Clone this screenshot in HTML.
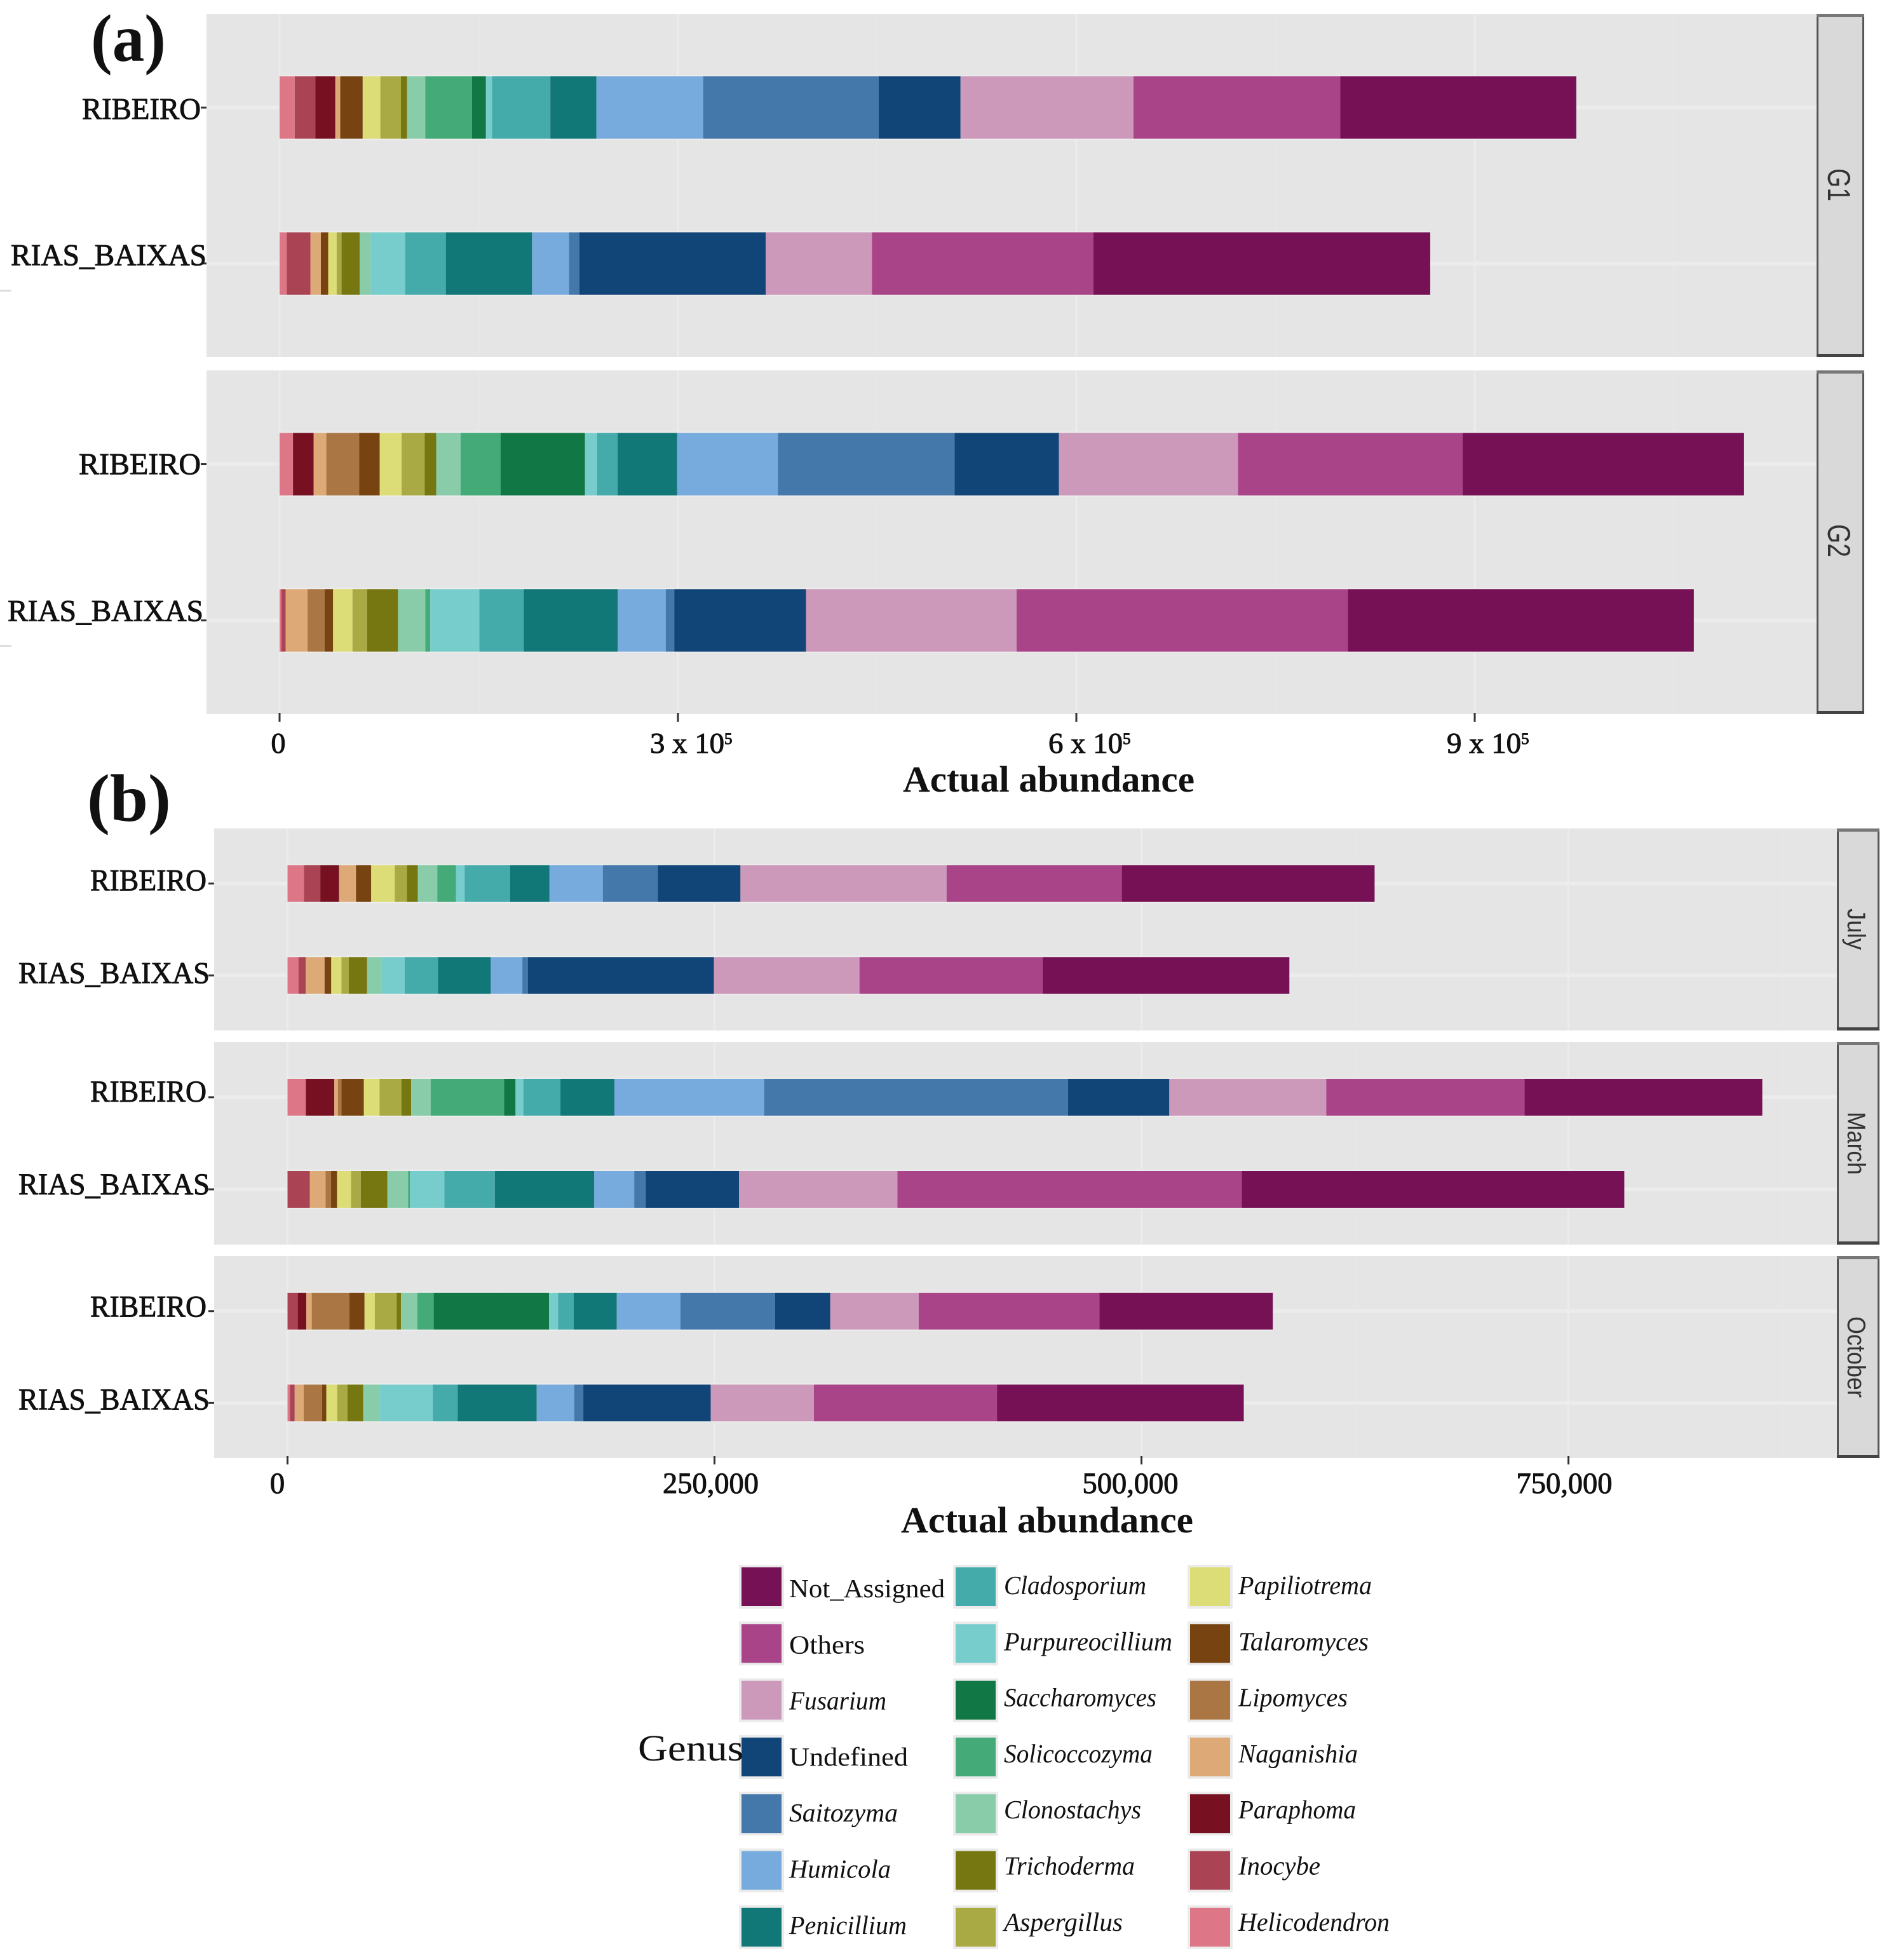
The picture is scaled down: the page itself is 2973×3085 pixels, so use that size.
<!DOCTYPE html>
<html lang="en">
<head>
<meta charset="utf-8">
<title>Actual abundance of fungal genera by wine region</title>
<style>
  html, body { margin: 0; padding: 0; background: #fff; }
  svg { display: block; }
  text { font-family: "Liberation Serif", serif; fill: #111; }
  .axis-label { stroke: #111; stroke-width: 1px; }
  .strip-label { font-family: "Liberation Sans", sans-serif; fill: #333; }
</style>
</head>
<body>
<svg id="chart" xmlns="http://www.w3.org/2000/svg" width="2973" height="3085" viewBox="0 0 2973 3085">
  <rect x="0" y="0" width="2973" height="3085" fill="#ffffff"/>
  <g id="plot-a"></g>
  <g id="plot-b"></g>
  <g id="legend"></g>

  <text x="143" y="96" font-size="106" font-weight="bold" textLength="118" lengthAdjust="spacingAndGlyphs">(a)</text>
  <text x="137" y="1292" font-size="106" font-weight="bold" textLength="132" lengthAdjust="spacingAndGlyphs">(b)</text>
  <text x="1421" y="1246" font-size="58" font-weight="bold" textLength="459" lengthAdjust="spacingAndGlyphs">Actual abundance</text>
  <text x="1418" y="2412" font-size="58" font-weight="bold" textLength="460" lengthAdjust="spacingAndGlyphs">Actual abundance</text>
  <text x="1004" y="2771" font-size="58" textLength="166" lengthAdjust="spacingAndGlyphs">Genus</text>
  <rect x="0" y="456" width="18" height="3" fill="#dddddd"/>
  <rect x="0" y="1015" width="18" height="3" fill="#dddddd"/>
</svg>

<script>
// Genus order, left to right within every stacked bar.
const genera = ['Helicodendron','Inocybe','Paraphoma','Naganishia','Lipomyces','Talaromyces','Papiliotrema','Aspergillus','Trichoderma','Clonostachys','Solicoccozyma','Saccharomyces','Purpureocillium','Cladosporium','Penicillium','Humicola','Saitozyma','Undefined','Fusarium','Others','Not_Assigned'];
const genusColors = ['#DD7788','#AA4455','#771122','#DDAA77','#AA7744','#774411','#DDDD77','#AAAA44','#777711','#88CCAA','#44AA77','#117744','#77CCCC','#44AAAA','#117777','#77AADD','#4477AA','#114477','#CC99BB','#AA4488','#771155'];
const categories = ['RIBEIRO','RIAS_BAIXAS'];

// Panel (a): abundance per genus, same order as `genera`.
const g1Ribeiro = [11400,15500,15100,3700,0,16900,13300,15500,4600,13700,35200,10500,4600,43900,34700,80400,132100,61700,130200,155800,177700];
const g1RiasBaixas = [5500,17800,0,7800,0,5500,6400,3700,13700,8200,0,0,26000,30600,64900,27900,7800,140300,80000,166800,253600];
const g2Ribeiro = [10100,0,15500,9600,24700,15500,16500,17400,8700,18300,30200,63500,9100,15500,44800,75900,133000,78600,134800,169100,212000];
const g2RiasBaixas = [1400,3200,0,16500,12800,6400,14600,11000,23300,20600,3700,0,37000,33400,70800,36100,6400,99200,158600,249500,260500];

// Panel (b): abundance per genus, same order as `genera`.
const julyRibeiro = [9600,9600,11000,9900,0,8900,13800,7100,6400,11400,11000,0,5000,26600,23100,31200,32300,48300,120700,102600,148000];
const julyRiasBaixas = [6400,4300,0,11000,0,3900,6000,4300,10700,8500,0,0,13500,19500,30900,18500,3200,109000,85200,107200,144500];
const marchRibeiro = [10700,0,16700,2100,2100,13100,9200,12800,5700,11400,43000,6700,4600,21700,31600,87700,177900,59300,91900,116100,139200];
const marchRiasBaixas = [0,13100,0,9200,3200,3500,8200,5700,15600,12100,1100,0,20200,29500,58200,23400,6700,54700,92700,201600,224000];
const octoberRibeiro = [0,6000,5000,3200,22000,8900,6000,12800,2500,9600,9600,67500,5300,9200,25200,37300,55400,32300,51800,105800,101500];
const octoberRiasBaixas = [1400,2800,0,5300,10700,2500,6400,6000,9200,9600,0,0,31200,14600,46200,22000,5300,74600,60400,107200,144500];

// Axis ticks.
const panelAMajorTicks = [0,300000,600000,900000];
const panelAMinorTicks = [150000,450000,750000,1050000];
const panelATickMantissas = ['0','3 x 10','6 x 10','9 x 10'];
const panelATickExponents = ['','5','5','5'];
const panelBMajorTicks = [0,250000,500000,750000];
const panelBMinorTicks = [125000,375000,625000,875000];
const panelBTickLabels = ['0','250,000','500,000','750,000'];

// Legend columns, top to bottom.
const legendColumn1 = ['Not_Assigned','Others','Fusarium','Undefined','Saitozyma','Humicola','Penicillium'];
const legendColumn2 = ['Cladosporium','Purpureocillium','Saccharomyces','Solicoccozyma','Clonostachys','Trichoderma','Aspergillus'];
const legendColumn3 = ['Papiliotrema','Talaromyces','Lipomyces','Naganishia','Paraphoma','Inocybe','Helicodendron'];
const uprightGenera = ['Not_Assigned','Others','Undefined'];

const NS = 'http://www.w3.org/2000/svg';

function scaleA(v) { return 440 + v / 300000 * 627; }
function scaleB(v) { return 452.5 + v / 250000 * 672; }
function bandCenter(top, bottom, i) { return top + (0.6 + i) * (bottom - top) / 2.2; }
function bandThickness(top, bottom) { return 0.4 * (bottom - top) / 2.2; }

function shape(parent, tag, attrs) {
  const node = document.createElementNS(NS, tag);
  for (const k in attrs) node.setAttribute(k, attrs[k]);
  parent.appendChild(node);
  return node;
}

function slug(s) { return s.toLowerCase().replace(/_/g, '-'); }

function drawFacet(parent, facet) {
  const top = facet.top, bottom = facet.bottom, left = facet.left, right = facet.right, x = facet.scale;
  const bg = shape(parent, 'rect', { x: left, y: top, width: right - left, height: bottom - top, fill: '#e5e5e5' });
  
  

  facet.minor.forEach(function (v) {
    const el = shape(parent, 'rect', { x: x(v) - 1, y: top, width: 2, height: bottom - top, fill: '#e8e8e8' });
    
    
  });
  facet.major.forEach(function (v) {
    const el = shape(parent, 'rect', { x: x(v) - 1.5, y: top, width: 3, height: bottom - top, fill: '#ececec' });
    
    
  });

  facet.series.forEach(function (values, c) {
    const cy = bandCenter(top, bottom, c);
    const thick = bandThickness(top, bottom);

    const grid = shape(parent, 'rect', { x: left, y: cy - 3, width: right - left, height: 6, fill: '#ececec' });
    
    

    const total = values.reduce(function (a, b) { return a + b; }, 0);
    const halo = shape(parent, 'rect', { x: x(0), y: cy - thick / 2 - 2, width: x(total) - x(0), height: thick + 4, fill: '#ececec' });
    
    

    let running = 0;
    values.forEach(function (v, g) {
      if (v > 0) {
        const seg = shape(parent, 'rect', { x: x(running), y: cy - thick / 2, width: x(running + v) - x(running), height: thick, fill: genusColors[g] });
        
        
      }
      running += v;
    });

    const tick = shape(parent, 'rect', { x: left - 9, y: cy - 1.5, width: 9, height: 3, fill: '#333333' });
    
    

    const label = shape(parent, 'text', { x: facet.labelEnd[c], y: cy + facet.labelDrop[c], 'text-anchor': 'end', 'font-size': 48, 'class': 'axis-label', textLength: facet.labelWidth[c], lengthAdjust: 'spacingAndGlyphs' });
    label.textContent = categories[c];
    
    
  });

  const strip = shape(parent, 'rect', { x: right + 1.5, y: top + 1.5, width: facet.stripRight - right - 3, height: bottom - top - 3, fill: '#d9d9d9', stroke: '#555555', 'stroke-width': 3 });
  
  
  const capTop = shape(parent, 'rect', { x: right, y: top, width: facet.stripRight - right, height: 5, fill: '#777777' });
  
  
  const capBottom = shape(parent, 'rect', { x: right, y: bottom - 5, width: facet.stripRight - right, height: 5, fill: '#444444' });
  
  

  const stripText = shape(parent, 'text', { 'class': 'strip-label', 'font-size': facet.stripFont, transform: 'translate(' + facet.stripBaseline + ',' + facet.stripStart + ') rotate(90)', textLength: facet.stripLength, lengthAdjust: 'spacingAndGlyphs' });
  stripText.textContent = facet.title;
  
  
}

// Panel (a)
const plotA = document.getElementById('plot-a');
const facetLayoutA = { left: 325, right: 2859, stripRight: 2934, scale: scaleA, major: panelAMajorTicks, minor: panelAMinorTicks, stripFont: 50, stripLength: 52 };
drawFacet(plotA, Object.assign({}, facetLayoutA, { name: 'g1', title: 'G1', top: 22, bottom: 562, series: [g1Ribeiro, g1RiasBaixas], labelEnd: [316, 325], labelDrop: [18, 3], labelWidth: [187, 308], stripBaseline: 2877, stripStart: 265 }));
drawFacet(plotA, Object.assign({}, facetLayoutA, { name: 'g2', title: 'G2', top: 583, bottom: 1124, series: [g2Ribeiro, g2RiasBaixas], labelEnd: [316, 320], labelDrop: [16, 1], labelWidth: [192, 308], stripBaseline: 2877, stripStart: 825 }));

panelAMajorTicks.forEach(function (v, i) {
  const t = shape(plotA, 'rect', { x: scaleA(v) - 1.5, y: 1122, width: 3, height: 14, fill: '#333333' });
  
  
  if (panelATickExponents[i] === '') {
    const z = shape(plotA, 'text', { x: scaleA(v) - 2, y: 1185, 'text-anchor': 'middle', 'font-size': 46, 'class': 'axis-label' });
    z.textContent = panelATickMantissas[i];
    
    
  } else {
    const m = shape(plotA, 'text', { x: scaleA(v) - 44, y: 1185, 'font-size': 46, 'class': 'axis-label', textLength: 117, lengthAdjust: 'spacingAndGlyphs' });
    m.textContent = panelATickMantissas[i];
    
    
    const e = shape(plotA, 'text', { x: scaleA(v) + 73, y: 1171, 'font-size': 25, 'class': 'axis-label' });
    e.textContent = panelATickExponents[i];
    
    
  }
});

// Panel (b)
const plotB = document.getElementById('plot-b');
const facetLayoutB = { left: 337, right: 2891, stripRight: 2958, scale: scaleB, major: panelBMajorTicks, minor: panelBMinorTicks, stripFont: 40 };
drawFacet(plotB, Object.assign({}, facetLayoutB, { name: 'july', title: 'July', top: 1304, bottom: 1622, series: [julyRibeiro, julyRiasBaixas], labelEnd: [325, 330], labelDrop: [11, 12], labelWidth: [183, 301], stripBaseline: 2908, stripStart: 1430, stripLength: 65 }));
drawFacet(plotB, Object.assign({}, facetLayoutB, { name: 'march', title: 'March', top: 1640, bottom: 1959, series: [marchRibeiro, marchRiasBaixas], labelEnd: [325, 330], labelDrop: [7, 8], labelWidth: [183, 301], stripBaseline: 2908, stripStart: 1750, stripLength: 99 }));
drawFacet(plotB, Object.assign({}, facetLayoutB, { name: 'october', title: 'October', top: 1977, bottom: 2295, series: [octoberRibeiro, octoberRiasBaixas], labelEnd: [325, 330], labelDrop: [9, 10], labelWidth: [183, 301], stripBaseline: 2908, stripStart: 2072, stripLength: 128 }));

const panelBLabelNudge = [-16, -6, -17.5, -6.5];
panelBMajorTicks.forEach(function (v, i) {
  const t = shape(plotB, 'rect', { x: scaleB(v) - 1.5, y: 2292, width: 3, height: 13, fill: '#333333' });
  
  
  const attrs = { x: scaleB(v) + panelBLabelNudge[i], y: 2350, 'text-anchor': 'middle', 'font-size': 47, 'class': 'axis-label' };
  if (i > 0) { attrs.textLength = 151; attrs.lengthAdjust = 'spacingAndGlyphs'; }
  const l = shape(plotB, 'text', attrs);
  l.textContent = panelBTickLabels[i];
  
  
});

// Legend
const legendGroup = document.getElementById('legend');
const legendNameFit = { Not_Assigned: 245, Others: 119, Fusarium: 153, Undefined: 187, Saitozyma: 171, Humicola: 160, Penicillium: 185, Cladosporium: 224, Purpureocillium: 265, Saccharomyces: 240, Solicoccozyma: 234, Clonostachys: 216, Trichoderma: 206, Aspergillus: 187, Papiliotrema: 210, Talaromyces: 205, Lipomyces: 172, Naganishia: 188, Paraphoma: 185, Inocybe: 129, Helicodendron: 238 };

function drawLegendColumn(names, swatchX, textX, firstBaseline) {
  names.forEach(function (name, i) {
    const top = 2467 + i * 89.3;
    const key = shape(legendGroup, 'rect', { x: swatchX - 4, y: top - 4, width: 71, height: 69, fill: '#ebebeb' });
    
    
    const sw = shape(legendGroup, 'rect', { x: swatchX, y: top, width: 63, height: 61, fill: genusColors[genera.indexOf(name)] });
    
    
    const attrs = { x: textX, y: firstBaseline + i * 88.3, 'font-size': 41, textLength: legendNameFit[name], lengthAdjust: 'spacingAndGlyphs', fill: '#222222' };
    if (uprightGenera.indexOf(name) < 0) attrs['font-style'] = 'italic';
    const lab = shape(legendGroup, 'text', attrs);
    lab.textContent = name;
    
    
  });
}
drawLegendColumn(legendColumn1, 1167, 1242, 2514);
drawLegendColumn(legendColumn2, 1504, 1580, 2509);
drawLegendColumn(legendColumn3, 1873, 1949, 2509);
</script>
</body>
</html>
